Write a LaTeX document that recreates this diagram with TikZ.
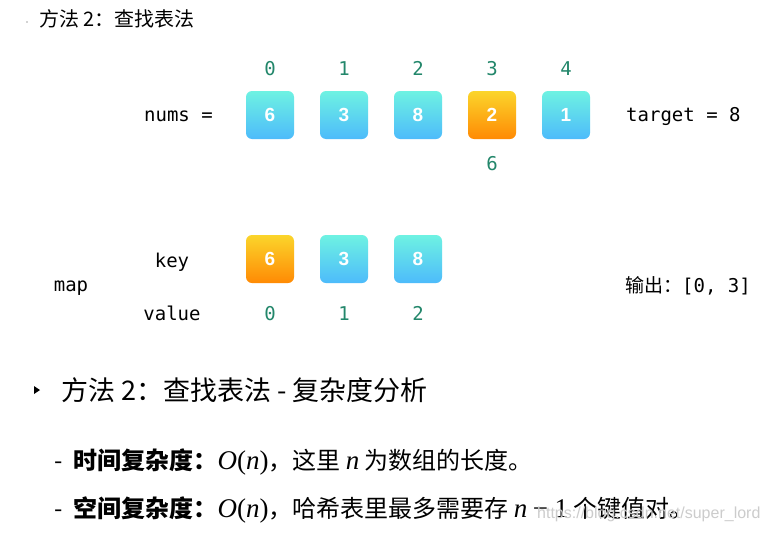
\documentclass[tikz,border=0pt]{standalone}
\usepackage{fontspec}
\setmainfont{Noto Sans CJK SC}
\newfontfamily\monof{DejaVu Sans Mono}
\newfontfamily\digf{Liberation Sans}
\newfontfamily\wmf{Liberation Sans}
\newfontfamily\tms{Liberation Serif}
\newcommand{\mI}[1]{{\tms\fontsize{27}{27}\selectfont\itshape #1}}
\newcommand{\mR}[1]{{\tms\fontsize{27}{27}\selectfont #1}}
\definecolor{idxc}{HTML}{23876B}
\definecolor{cyT}{HTML}{6EF2E2}
\definecolor{cyB}{HTML}{4DBBFB}
\definecolor{orT}{HTML}{FBD52B}
\definecolor{orB}{HTML}{FF8A04}
\tikzset{
  cell/.style={minimum width=48pt,minimum height=48pt,rounded corners=6pt,
    top color=cyT,bottom color=cyB,text=white,font=\digf\bfseries\fontsize{19}{19}\selectfont,inner sep=0pt},
  hot/.style={cell,top color=orT,bottom color=orB},
  idx/.style={text=idxc,font=\monof\fontsize{19}{19}\selectfont,inner sep=0pt,anchor=base},
  mono/.style={text=black,font=\monof\fontsize{19}{19}\selectfont,inner sep=0pt},
  line/.style={anchor=west,inner sep=0pt,font=\fontsize{24}{24}\selectfont},
}
\begin{document}
\begin{tikzpicture}[x=1pt,y=-1pt]
\useasboundingbox[fill=white] (0,0) rectangle (769,533);
% title
\fill[gray!70] (27,22) circle (0.9pt);
\node[anchor=west,inner sep=0pt,font=\fontsize{20}{20}\selectfont] (title) at (39,19) {方法 2：查找表法};
% nums array
\node[mono,anchor=east] (nums) at (213,116) {nums =};
\foreach \i/\v in {0/6,1/3,2/8,4/1} {
  \node[cell] (n\i) at (270+74*\i,115) {\v};
  \node[idx] (i\i) at (270+74*\i,75) {\i};
}
\node[hot] (n3) at (492,115) {2};
\node[idx] (i3) at (492,75) {3};
\node[idx] (diff) at (492,170) {6};
\node[mono,anchor=west] (target) at (626,116) {target = 8};
% map
\node[mono] (mapl) at (71,288) {map};
\node[mono] (keyl) at (172,262) {key};
\node[mono] (vall) at (172,313) {value};
\node[hot] (k0) at (270,259) {6};
\node[cell] (k1) at (344,259) {3};
\node[cell] (k2) at (418,259) {8};
\node[idx] (v0) at (270,320) {0};
\node[idx] (v1) at (344,320) {1};
\node[idx] (v2) at (418,320) {2};
\node[mono,anchor=west] (out) at (625,286) {{\rmfamily\fontsize{19}{19}\selectfont 输出：}[0, 3]};
% analysis
\fill (34,386) -- (40,390) -- (34,394) -- cycle;
\node[anchor=west,inner sep=0pt,font=\fontsize{27}{27}\selectfont] (head) at (61,390) {方法 2：查找表法 - 复杂度分析};
\node[line] (l1) at (54,462) {-\hspace{11pt}\textbf{时间复杂度：}\mI{O}\mR{(}\mI{n}\mR{)}，这里 \mI{n} 为数组的长度。};
\node[line] (l2) at (54,510) {-\hspace{11pt}\textbf{空间复杂度：}\mI{O}\mR{(}\mI{n}\mR{)}，哈希表里最多需要存 \mI{n} \mR{− 1} 个键值对。};
\node[anchor=west,inner sep=0pt,text=gray!40,font=\wmf\fontsize{16}{16}\selectfont] (wm) at (537,514) {https://blog.csdn.net/super\_lord};
\end{tikzpicture}
\end{document}
